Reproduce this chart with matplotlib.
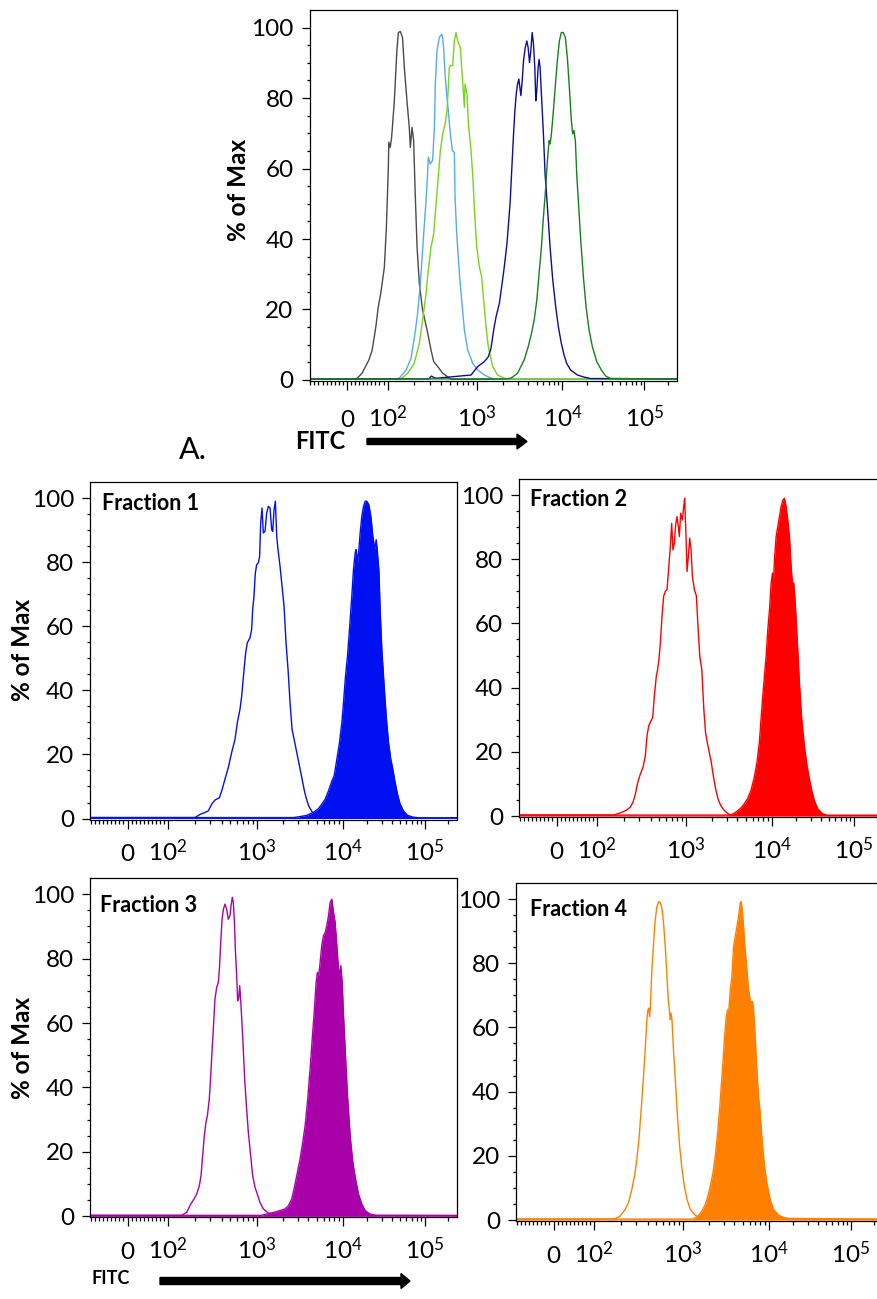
import numpy as np
import matplotlib
matplotlib.use("Agg")
import matplotlib.pyplot as plt
from matplotlib.ticker import FixedLocator
from matplotlib.patches import FancyArrow

plt.rcParams['font.family'] = ['Lato', 'DejaVu Sans']
plt.rcParams['mathtext.fontset'] = 'custom'
plt.rcParams['mathtext.rm'] = 'Lato'
plt.rcParams['mathtext.it'] = 'Lato:italic'
plt.rcParams['mathtext.bf'] = 'Lato:bold'

# ---- data: FITC intensity vs % of max ----
# top panel (overlay of five samples)
gray_x = [-92, 20, 25, 37, 54, 62, 71, 77, 83, 92, 97, 102, 103, 107, 111, 119, 127, 132, 139, 147,
          154, 165, 175, 180, 188, 196, 203, 214, 227, 247, 277, 307, 329, 365, 415, 472, 514, 262144]
gray_y = [0.3, 0.3, 0.5, 1.9, 5.7, 8.5, 15.1, 20.8, 24.5, 32, 43.4, 60.4, 67.5, 66, 68.9, 79.2, 93.4, 98.6,
          98.9, 97.2, 88.7, 79.2, 71.7, 66, 71.7, 67.9, 54.7, 37.7, 27.4, 19.8, 14.2, 8.5, 5.2, 3.8, 1.9,
          0.9, 0.2, 0.2]

ltblue_x = [-92, 120, 135, 161, 183, 203, 217, 233, 254, 270, 281, 286, 301, 320, 335, 343, 358, 380, 404,
            415, 426, 441, 460, 480, 506, 533, 561, 571, 596, 639, 678, 727, 792, 902, 1028, 1228, 1468,
            1755, 262144]
ltblue_y = [0.3, 0.3, 0.5, 2.8, 6.1, 13.2, 18.9, 27.4, 41.5, 50.9, 58.5, 63.2, 61.3, 62.3, 71.7, 84, 93.4,
            97.2, 98.1, 97.2, 93.9, 86.8, 81.1, 76.4, 69.8, 65.1, 64.6, 51.9, 41.5, 30.2, 22.6, 14.2, 8.5,
            4.7, 2.8, 1.4, 0.5, 0.2, 0.2]

ltgreen_x = [-92, 125, 141, 168, 199, 227, 247, 270, 286, 307, 329, 340, 365, 391, 415, 441, 464, 493, 506,
             537, 561, 586, 612, 655, 678, 702, 727, 739, 778, 806, 863, 910, 942, 1000, 1074, 1143, 1206,
             1284, 1367, 1535, 1755, 2099, 2508, 262144]
ltgreen_y = [0.3, 0.3, 0.3, 1.9, 4.7, 10.4, 17, 24.5, 31.1, 37.7, 41.5, 46.2, 55.7, 65.1, 69.8, 72.6, 76.4,
             88.7, 89.2, 89.2, 96.2, 98.6, 96.2, 94.3, 88.7, 83, 77.4, 84, 81.1, 72.6, 65.1, 56.6, 48.1,
             37.7, 32.1, 29.2, 22.6, 15.1, 9.4, 3.8, 1.4, 0.5, 0.2, 0.2]

dkblue_x = [-92, 290, 310, 335, 360, 863, 1027, 1228, 1367, 1468, 1578, 1680, 1836, 1954, 2099, 2255, 2336,
            2463, 2574, 2692, 2790, 2892, 2998, 3107, 3191, 3278, 3397, 3521, 3681, 3849, 3988, 4133, 4284,
            4440, 4602, 4769, 4897, 5029, 5212, 5352, 5496, 5696, 6011, 6286, 6691, 7192, 7731, 8363, 8983,
            9730, 10480, 11290, 12640, 15250, 18380, 22170, 262144]
dkblue_y = [0.3, 0.3, 1.1, 0.6, 0.5, 1.4, 3.8, 5.2, 6.6, 9, 14.2, 17.9, 21.7, 26.4, 32.1, 38.7, 43.4, 50.9,
            60.4, 69.8, 76.4, 81.1, 84, 85.4, 83, 80.7, 84.9, 90.6, 94.3, 96.2, 94.3, 90.1, 93.4, 98.6, 95.3,
            88.7, 79.2, 82.1, 88.7, 91, 88.7, 81.1, 69.8, 58.5, 49.1, 37.7, 28.3, 20.8, 15.1, 10.4, 7.1,
            4.7, 2.8, 1.4, 0.8, 0.4, 0.3]

dkgreen_x = [-92, 2200, 2507, 2998, 3583, 3988, 4362, 4686, 5029, 5352, 5696, 6011, 6398, 6691, 6998, 7192,
             7453, 7860, 8363, 8744, 9224, 9730, 10280, 10880, 11510, 12170, 12880, 13370, 13870, 14410,
             14960, 15830, 16750, 18050, 19440, 21150, 23220, 26230, 29920, 33770, 38850, 262144]
dkgreen_y = [0.3, 0.3, 0.5, 1.9, 5.7, 9.4, 13.2, 17, 22.6, 30.2, 37.7, 46.2, 54.7, 62.3, 67.9, 67, 69.8,
             76.4, 84.9, 90.6, 96.2, 98.6, 98.6, 97.2, 91.5, 83, 73.6, 69.8, 70.8, 67.9, 58.5, 49.1, 39.6,
             29.2, 20.8, 14.2, 9.4, 5.2, 2.8, 1.1, 0.4, 0.3]

# fraction panels: open = unstained/control, filled = stained
f1_open_x = [-92, 190, 201, 229, 261, 284, 310, 338, 378, 401, 437, 476, 519, 566, 601, 644, 673, 715, 746,
             778, 834, 871, 894, 925, 958, 991, 1037, 1074, 1104, 1145, 1186, 1241, 1298, 1358, 1420, 1486,
             1527, 1582, 1641, 1700, 1762, 1860, 1946, 2071, 2186, 2307, 2436, 2572, 2716, 2867, 3027,
             3192, 3368, 3555, 3751, 4029, 4412, 5005, 5726, 262144]
f1_open_y = [0.3, 0.3, 0.3, 1.3, 1.9, 2.4, 4.5, 5.8, 6.5, 8.6, 12.3, 15.9, 20.6, 24.7, 29.9, 34.1, 38.2,
             46.5, 51.7, 54.8, 56.4, 59, 65.2, 69.4, 76.6, 79.2, 79.8, 81.8, 92.2, 96.9, 89.1, 89.6, 95.3,
             97.4, 96.9, 90.1, 89.6, 96.4, 99, 88.1, 83.9, 78.7, 73.5, 66.3, 54.8, 46.5, 36.1, 27.8, 24.7,
             21.6, 18.5, 15.4, 12.3, 9.1, 6.5, 3.9, 2.1, 0.8, 0.2, 0.2]
f1_fill_x = [-92, 2667, 3192, 3820, 4571, 5235, 5726, 6268, 6857, 7504, 7982, 8588, 9225, 9820, 10280,
             10880, 11510, 12170, 12990, 13620, 14270, 14670, 15250, 15830, 16420, 17210, 18040, 18900,
             19800, 20950, 22170, 23450, 24800, 25740, 26490, 27750, 28790, 30170, 32220, 34100, 36410,
             38850, 41100, 43860, 46870, 50480, 55430, 62050, 73460, 88530, 262144]
f1_fill_y = [0.3, 0.3, 0.6, 1, 1.9, 3.1, 4.5, 6, 8.6, 11.7, 13.3, 18.5, 23.7, 29.9, 36.1, 44.4, 50.7, 59,
             69.4, 77.7, 82.9, 83.9, 79.8, 83.9, 89.1, 94.3, 97.4, 99, 99, 97.9, 94.3, 88.1, 83.9, 87, 83.9,
             77.7, 65.2, 52.8, 41.3, 32, 23.7, 18.5, 15.4, 11.2, 7.6, 4.5, 2.4, 1, 0.4, 0.2, 0.2]

f2_open_x = [-92, 140, 154, 183, 214, 237, 254, 270, 287, 307, 329, 349, 365, 381, 405, 422, 441, 464, 480,
             497, 515, 538, 561, 586, 612, 633, 667, 690, 714, 739, 765, 792, 820, 841, 871, 910, 942, 966,
             1000, 1028, 1066, 1105, 1146, 1188, 1254, 1324, 1373, 1449, 1530, 1616, 1692, 1771, 1870,
             1974, 2084, 2220, 2365, 2545, 2787, 3107, 3494, 262144]
f2_open_y = [0.3, 0.3, 0.3, 1, 1.8, 2.8, 4.3, 6.9, 10.5, 13.1, 15.2, 18.8, 25, 28.1, 29.7, 30.7, 37.4, 43.6,
             45.7, 48.8, 54, 62.3, 68.5, 70, 70.5, 75.7, 84, 91.2, 82.9, 85, 90.7, 93.3, 90.2, 87.1, 94.3,
             92.2, 96.4, 99, 87.1, 76.2, 80.9, 86.6, 82.9, 74.7, 70.5, 68.5, 60.2, 49.8, 45.7, 33.3, 26.1,
             23, 19.9, 16.8, 12.6, 8.5, 5.4, 3.3, 1.8, 0.7, 0.2, 0.2]
f2_fill_x = [-92, 3344, 3828, 4385, 4800, 5252, 5750, 6295, 6772, 7214, 7547, 7900, 8268, 8653, 9055, 9472,
             9910, 10280, 10570, 10870, 11390, 11940, 12510, 13100, 13730, 14390, 15070, 15790, 16550,
             17340, 17990, 18670, 19380, 20500, 21890, 23360, 25160, 27100, 28940, 30900, 33280, 36530,
             42000, 48300, 262144]
f2_fill_y = [0.3, 0.3, 1.2, 2.5, 3.8, 5.4, 8, 12.1, 16.8, 23, 30.2, 37.4, 43.6, 49.8, 58.1, 64.3, 72.6,
             75.7, 72.6, 79.8, 87.1, 90.2, 93.3, 96.4, 98.4, 99, 96.4, 92.2, 87.1, 77.8, 72.6, 72.6, 67.4,
             56, 41.6, 30.2, 21.9, 15.7, 11.6, 8, 4.9, 2.3, 0.7, 0.2, 0.2]

f3_open_x = [-92, 130, 142, 162, 180, 196, 210, 225, 235, 245, 256, 267, 277, 291, 302, 312, 323, 337, 352,
             368, 378, 391, 405, 419, 437, 456, 476, 497, 511, 528, 542, 556, 571, 591, 606, 622, 639, 655,
             690, 727, 765, 799, 849, 894, 950, 1009, 1084, 1186, 1358, 1553, 1860, 262144]
f3_open_y = [0.3, 0.3, 0.3, 1.2, 3.8, 5.4, 6.9, 9.5, 12.6, 18.8, 25, 29.2, 31.2, 36.4, 43.6, 50.9, 58.1,
             67.4, 71, 72.6, 76.7, 85, 92.2, 95.3, 96.9, 95.3, 92.2, 93.3, 96.4, 99, 97.4, 92.2, 82.9, 74.7,
             66.9, 67.4, 71.6, 67.4, 56, 42.6, 33.3, 26.1, 18.8, 12.6, 9, 6.9, 4.3, 2.3, 1, 0.6, 0.4, 0.3]
f3_fill_x = [-92, 1100, 1298, 1553, 1860, 2129, 2328, 2548, 2713, 2917, 3191, 3428, 3652, 3890, 4181, 4450,
             4695, 4910, 5090, 5280, 5472, 5726, 5989, 6268, 6553, 6857, 7168, 7498, 7850, 8204, 8588, 8981,
             9225, 9550, 9910, 10290, 10880, 11510, 12400, 13360, 14410, 15680, 17210, 18900, 21740, 26230,
             262144]
f3_fill_y = [0.3, 0.3, 0.7, 1.2, 1.8, 2.3, 3.3, 5.4, 8.5, 12.6, 17.8, 23, 28.1, 35.4, 45.7, 56, 64.3, 72.6,
             75.7, 74.7, 78.8, 84, 87.1, 88.1, 90.2, 93.3, 97.4, 98.4, 94.3, 91.2, 84, 76.7, 74.7, 77.8,
             72.6, 62.3, 49.8, 37.4, 25, 16.8, 11.6, 6.9, 3.8, 1.8, 0.7, 0.2, 0.2]

f4_open_x = [-92, 150, 172, 196, 224, 244, 266, 285, 303, 322, 339, 360, 376, 393, 403, 414, 421, 428, 447,
             467, 487, 509, 532, 555, 580, 605, 632, 660, 684, 708, 720, 733, 752, 785, 820, 871, 917, 975,
             1036, 1114, 1218, 1356, 1524, 262144]
f4_open_y = [0.3, 0.3, 0.4, 1.2, 3.3, 5.4, 9.5, 13.7, 18.9, 26.1, 34.4, 44.8, 53.1, 62.4, 65.5, 66, 63.4,
             65.5, 77.9, 86.2, 93.5, 97.6, 99.2, 98.9, 97.1, 92.4, 85.2, 75.9, 68.6, 64.5, 62.4, 64.5, 62.4,
             52, 43.7, 31.3, 23, 15.8, 10.6, 6.4, 3.3, 1.8, 0.7, 0.3]
f4_fill_x = [-92, 1300, 1393, 1524, 1667, 1823, 1959, 2085, 2240, 2385, 2540, 2680, 2800, 2930, 3063, 3205,
             3320, 3441, 3570, 3733, 3902, 4083, 4268, 4463, 4667, 4797, 4930, 5108, 5341, 5585, 5840, 6107,
             6335, 6505, 6680, 6985, 7305, 7638, 7987, 8352, 8895, 9565, 10490, 11530, 13290, 16070, 20370,
             262144]
f4_fill_y = [0.3, 0.3, 0.7, 1.5, 2.8, 4.9, 7.5, 10.6, 14.7, 19.9, 27.2, 34.4, 41.7, 48.9, 57.2, 63.4, 65.5,
             65.5, 71.7, 75.9, 85.2, 88.3, 91.4, 94.5, 98.7, 99.2, 96.6, 91.4, 84.1, 77.9, 71.7, 68.6, 67.6,
             68.1, 65.5, 57.2, 46.8, 38.5, 33.4, 26.1, 17.8, 11.6, 6.4, 3.3, 1.5, 0.6, 0.2, 0.2]

x_major = [0, 100, 1000, 10000, 100000]
x_labels = ['0', r'$\mathregular{10^{2}}$', r'$\mathregular{10^{3}}$',
            r'$\mathregular{10^{4}}$', r'$\mathregular{10^{5}}$']
x_minor = ([-v for v in range(10, 100, 10)] + list(range(10, 100, 10))
           + [m * 10 ** k for k in (2, 3, 4) for m in range(2, 10)] + [200000])
fraction_names = ['Fraction 1', 'Fraction 2', 'Fraction 3', 'Fraction 4']


# ---- biexponential-like display scale (linear around 0, log above 100) ----
S_KNOTS = [-10, -0.92, 0, 1, 2, 3, 4, 1 + np.log10(2621.44), 20]
P_KNOTS = [-370, 0, 37.5, 78, 167, 252.5, 334.5, 367, 1578]


def to_s(x):
    x = np.asarray(x, dtype=float)
    ax_ = np.abs(x)
    big = np.sign(x) * (1 + np.log10(np.maximum(ax_, 1e-12) / 100))
    return np.where(ax_ <= 100, x / 100, big)


def from_s(s):
    s = np.asarray(s, dtype=float)
    big = np.sign(s) * 100 * 10 ** (np.abs(s) - 1)
    return np.where(np.abs(s) <= 1, s * 100, big)


def fwd(x):
    return np.interp(to_s(x), S_KNOTS, P_KNOTS)


def inv(p):
    return from_s(np.interp(p, P_KNOTS, S_KNOTS))


W, H = 877, 1299
fig = plt.figure(figsize=(W / 100, H / 100), dpi=100)


def add_axes(left, top, right, bottom):
    return fig.add_axes([left / W, 1 - bottom / H, (right - left) / W, (bottom - top) / H])


def style(ax, xpad):
    ax.set_xscale('function', functions=(fwd, inv))
    ax.set_xlim(-92, 262144)
    ax.set_ylim(-0.3, 105)
    ax.xaxis.set_major_locator(FixedLocator(x_major))
    ax.set_xticks(x_major, labels=x_labels)
    ax.xaxis.set_minor_locator(FixedLocator(x_minor))
    ax.set_yticks([0, 20, 40, 60, 80, 100])
    ax.yaxis.set_minor_locator(FixedLocator(np.arange(0, 101, 5)))
    ax.tick_params(axis='both', which='both', direction='out', width=0.9, colors='black')
    ax.tick_params(axis='x', which='major', length=6.5, pad=xpad, labelsize=17.5)
    ax.tick_params(axis='x', which='minor', length=3)
    ax.tick_params(axis='y', which='major', length=6, pad=5.5, labelsize=17.5)
    ax.tick_params(axis='y', which='minor', length=2.5)
    plt.setp(ax.get_xticklabels(), va='baseline')
    for sp in ax.spines.values():
        sp.set_linewidth(0.9)
        sp.set_color('black')


def hist(ax, x, y, color, filled=False):
    if filled:
        ax.fill_between(x, 0, y, color=color, lw=0)
    ax.plot(x, y, color=color, lw=1.0)


# top overlay
ax0 = add_axes(309.5, 10, 677, 381)
style(ax0, 26.5)
hist(ax0, gray_x, gray_y, '#4a4a4a')
hist(ax0, ltblue_x, ltblue_y, '#55aaf5')
hist(ax0, ltgreen_x, ltgreen_y, '#77d41a')
hist(ax0, dkblue_x, dkblue_y, '#0c0c9e')
hist(ax0, dkgreen_x, dkgreen_y, '#16801a')

# fraction panels
boxes = [(90, 482, 457, 819.5), (519, 479, 886, 817), (90, 878, 457, 1217.3), (516, 883, 883, 1221)]
series = [(f1_open_x, f1_open_y, f1_fill_x, f1_fill_y, '#0010f0'),
          (f2_open_x, f2_open_y, f2_fill_x, f2_fill_y, '#ff0000'),
          (f3_open_x, f3_open_y, f3_fill_x, f3_fill_y, '#aa00aa'),
          (f4_open_x, f4_open_y, f4_fill_x, f4_fill_y, '#ff8000')]
name_pos = [(101.5, 503), (530.5, 499.5), (100, 905), (530.5, 910)]
for box, (ox, oy, fx, fy, c), name, (nx, ny) in zip(boxes, series, fraction_names, name_pos):
    ax = add_axes(*box)
    style(ax, 23.5)
    hist(ax, fx, fy, c, filled=True)
    hist(ax, ox, oy, c)
    fig.text(nx / W, 1 - ny / H, name, fontsize=15.5, fontweight='bold', ha='left', va='center')

# axis titles
for (px, py) in [(238, 190), (22.5, 650), (22.5, 1048)]:
    fig.text(px / W, 1 - py / H, '% of Max', rotation=90, fontsize=17.5, fontweight='bold',
             ha='center', va='center')

fig.text(320.5 / W, 1 - 442 / H, 'FITC', fontsize=17, fontweight='bold', ha='center', va='center')
fig.text(110.5 / W, 1 - 1278.5 / H, 'FITC', fontsize=13, fontweight='bold', ha='center', va='center')
fig.text(193 / W, 1 - 450 / H, 'A.', fontsize=22, ha='center', va='center')

fig.add_artist(FancyArrow(3.67, (H - 441.5) / 100, 1.60, 0, width=0.06, head_width=0.15,
                          head_length=0.10, length_includes_head=True, color='black',
                          transform=fig.dpi_scale_trans))
fig.add_artist(FancyArrow(1.60, (H - 1281) / 100, 2.50, 0, width=0.07, head_width=0.15,
                          head_length=0.09, length_includes_head=True, color='black',
                          transform=fig.dpi_scale_trans))

fig.savefig('out.png', dpi=100)
